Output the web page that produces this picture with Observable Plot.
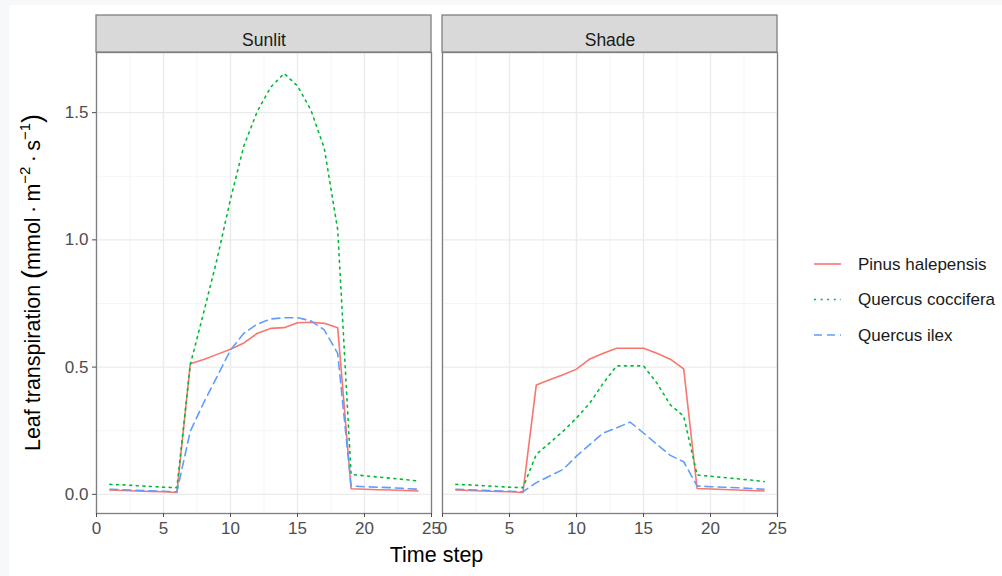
<!DOCTYPE html>
<html><head><meta charset="utf-8">
<script src="https://cdn.jsdelivr.net/npm/d3@7"></script>
<script src="https://cdn.jsdelivr.net/npm/@observablehq/plot@0.6"></script>
<style>
html,body{margin:0;padding:0;background:#f7f8fa;width:1002px;height:576px;overflow:hidden;}
#card{position:absolute;left:9px;top:5px;width:993px;height:571px;background:#fff;}
#chart{position:absolute;left:0;top:0;}
</style></head><body><div id="card"></div><div id="chart"></div>
<script>
const timeSteps = [1,2,3,4,5,6,7,8,9,10,11,12,13,14,15,16,17,18,19,20,21,22,23,24];
const facets = ["Sunlit", "Shade"];
const species = ["Pinus halepensis", "Quercus coccifera", "Quercus ilex"];
const colors = ["#F8766D", "#00BA38", "#619CFF"];
const dashes = [null, "2,4.6", "8,5"];

const sunlitPinus     = [0.017,0.015,0.013,0.011,0.010,0.007,0.513,0.530,0.550,0.570,0.595,0.633,0.652,0.655,0.674,0.676,0.672,0.655,0.022,0.020,0.018,0.017,0.015,0.013];
const sunlitCoccifera = [0.039,0.037,0.034,0.031,0.028,0.026,0.510,0.715,0.925,1.160,1.370,1.505,1.600,1.654,1.605,1.510,1.360,1.040,0.078,0.073,0.068,0.063,0.058,0.052];
const sunlitIlex      = [0.020,0.018,0.016,0.014,0.012,0.010,0.248,0.360,0.463,0.567,0.633,0.669,0.689,0.694,0.694,0.682,0.646,0.554,0.033,0.030,0.028,0.026,0.023,0.020];
const shadePinus      = [0.017,0.015,0.013,0.011,0.010,0.007,0.430,0.450,0.470,0.492,0.532,0.554,0.574,0.574,0.574,0.554,0.531,0.493,0.023,0.021,0.019,0.017,0.015,0.013];
const shadeCoccifera  = [0.039,0.037,0.034,0.031,0.028,0.026,0.157,0.202,0.248,0.300,0.359,0.437,0.505,0.505,0.505,0.437,0.352,0.307,0.076,0.071,0.066,0.061,0.056,0.050];
const shadeIlex       = [0.020,0.018,0.016,0.014,0.012,0.010,0.046,0.072,0.098,0.150,0.196,0.241,0.261,0.284,0.241,0.196,0.153,0.128,0.033,0.030,0.028,0.026,0.023,0.020];

const xTicks = [0,5,10,15,20,25];
const xMinor = [2.5,7.5,12.5,17.5,22.5];
const yTicks = [0,0.5,1,1.5];
const yMinor = [0.25,0.75,1.25];
const xTitle = "Time step";

const series = {
  Sunlit: [sunlitPinus, sunlitCoccifera, sunlitIlex],
  Shade: [shadePinus, shadeCoccifera, shadeIlex]
};
const rows = [];
facets.forEach(f => species.forEach((s, i) => series[f][i].forEach((v, j) =>
  rows.push({light: f, species: s, t: timeSteps[j], v}))));

const ext = d3.extent(rows, d => d.v);
const pad = (ext[1] - ext[0]) * 0.05;
const yDomain = [ext[0] - pad, ext[1] + pad];
const xDomain = [0, 25];
const strips = facets.map(f => ({light: f}));

const font = "'Liberation Sans', Arial, sans-serif";
const lineMarks = species.map((s, i) => Plot.line(rows.filter(d => d.species === s), {
  x: "t", y: "v", fx: "light", stroke: colors[i], strokeWidth: 1.6,
  strokeDasharray: dashes[i] || undefined
}));

const plot = Plot.plot({
  width: 1002, height: 576,
  marginLeft: 96, marginRight: 225, marginTop: 52, marginBottom: 63,
  style: {background: "transparent", fontFamily: font, overflow: "visible"},
  fx: {domain: facets, paddingInner: 0.0318, paddingOuter: 0, axis: null, label: null},
  x: {domain: xDomain, label: null},
  y: {domain: yDomain, label: null},
  marks: [
    Plot.gridX(xMinor, {stroke: "#f2f2f2", strokeOpacity: 1, strokeWidth: 0.8}),
    Plot.gridY(yMinor, {stroke: "#f2f2f2", strokeOpacity: 1, strokeWidth: 0.8}),
    Plot.gridX(xTicks, {stroke: "#ebebeb", strokeOpacity: 1, strokeWidth: 1.4}),
    Plot.gridY(yTicks, {stroke: "#ebebeb", strokeOpacity: 1, strokeWidth: 1.4}),
    ...lineMarks,
    Plot.frame({stroke: "#7f7f7f", strokeWidth: 1.3}),
    Plot.rect(strips, {fx: "light", x1: () => xDomain[0], x2: () => xDomain[1],
      y1: () => yDomain[1], y2: () => yDomain[1], insetTop: -37,
      fill: "#d9d9d9", stroke: "#7f7f7f", strokeWidth: 1.3}),
    Plot.text(strips, {fx: "light", text: "light", frameAnchor: "top", dy: -18.5,
      fontSize: 17.5, fill: "#1a1a1a"}),
    Plot.axisX({ticks: xTicks, tickSize: 4, tickPadding: 4, fontSize: 17, color: "#4d4d4d", label: null}),
    Plot.axisY({ticks: yTicks, tickFormat: d => d.toFixed(1), tickSize: 4, tickPadding: 4,
      fontSize: 17, color: "#4d4d4d", label: null})
  ]
});
document.getElementById("chart").appendChild(plot);

const svg = d3.select(plot);
// axis titles
svg.append("text").attr("x", 436.5).attr("y", 562).attr("text-anchor", "middle")
  .attr("font-size", 21.5).attr("fill", "#000").attr("font-family", font).text(xTitle);
const yt = svg.append("text").attr("transform", "translate(40,282.5) rotate(-90)")
  .attr("text-anchor", "middle").attr("font-size", 21.5).attr("fill", "#000").attr("font-family", font);
yt.append("tspan").text("Leaf transpiration ");
yt.append("tspan").attr("font-size", 27).attr("dy", 1).text("(");
yt.append("tspan").attr("dy", -1).text("mmol\u2009\u00b7\u2009m");
yt.append("tspan").attr("font-size", 15).attr("dy", -10).text("\u22122");
yt.append("tspan").attr("dy", 10).text("\u2009\u00b7\u2009s");
yt.append("tspan").attr("font-size", 15).attr("dy", -10).text("\u22121");
yt.append("tspan").attr("font-size", 27).attr("dy", 11).text(")");

// legend
const lg = svg.append("g").attr("font-family", font).attr("text-anchor", "start");
species.forEach((s, i) => {
  const y = 264 + i * 35.5;
  lg.append("line").attr("x1", 814).attr("x2", 841).attr("y1", y).attr("y2", y)
    .attr("stroke", colors[i]).attr("stroke-width", 1.6)
    .attr("stroke-dasharray", dashes[i]);
  lg.append("text").attr("x", 858).attr("y", y).attr("dy", "0.35em")
    .attr("text-anchor", "start")
    .attr("font-size", 17).attr("fill", "#1a1a1a").text(s);
});
</script></body></html>
